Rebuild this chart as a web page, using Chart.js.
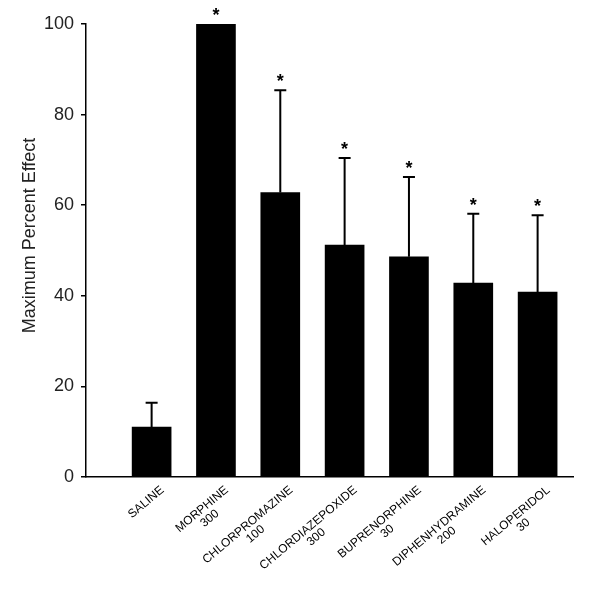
<!DOCTYPE html>
<html>
<head>
<meta charset="utf-8">
<script src="https://cdn.jsdelivr.net/npm/chart.js@4"></script>
<style>
html,body{margin:0;padding:0;background:#fff}
#wrap{width:612px;height:589px}
</style>
</head>
<body>
<div id="wrap"><canvas id="chart" width="612" height="589"></canvas></div>
<script>
// data
const drugs = ["SALINE","MORPHINE","CHLORPROMAZINE","CHLORDIAZEPOXIDE","BUPRENORPHINE","DIPHENHYDRAMINE","HALOPERIDOL"]
const doses = ["","300","100","300","30","200","30"]
const meanEffect = [11, 100, 62.8, 51.2, 48.6, 42.8, 40.8]
const errUp = [5.4, 0, 22.6, 19.2, 17.6, 15.3, 17]
const significant = [false, true, true, true, true, true, true]
const yTicks = [0, 20, 40, 60, 80, 100]

const FONT = "'Liberation Sans', Arial, sans-serif"

// error bars, stars and the angled category labels
const extras = {
  id: "extras",
  afterDatasetsDraw(chart){
    const c = chart.ctx
    const xs = chart.scales.x, ys = chart.scales.y
    c.save()
    c.strokeStyle = "#000"
    c.fillStyle = "#000"
    c.lineWidth = 2
    meanEffect.forEach((v,i)=>{
      const x = xs.getPixelForValue(i)
      const top = ys.getPixelForValue(v + errUp[i])
      if(errUp[i] > 0){
        c.beginPath()
        c.moveTo(x, ys.getPixelForValue(v))
        c.lineTo(x, top)
        c.moveTo(x-6, top)
        c.lineTo(x+6, top)
        c.stroke()
      }
      if(significant[i]){
        c.font = "bold 18px " + FONT
        c.textAlign = "center"
        c.textBaseline = "middle"
        c.fillText("*", x, top - 8)
      }
    })
    c.restore()
  },
  afterDraw(chart){
    const c = chart.ctx
    const xs = chart.scales.x
    const y0 = chart.chartArea.bottom
    c.save()
    c.fillStyle = "#000"
    c.font = "12px " + FONT
    drugs.forEach((name,i)=>{
      const x = xs.getPixelForValue(i)
      c.save()
      c.translate(x + 7, y0 + 7)
      c.rotate(-40 * Math.PI / 180)
      c.textBaseline = "top"
      c.textAlign = "right"
      c.fillText(name, 0, 0)
      if(doses[i]){
        const w = c.measureText(name).width
        c.textAlign = "center"
        c.fillText(doses[i], -w/2, 12)
      }
      c.restore()
    })
    c.restore()
  }
}

new Chart(document.getElementById("chart"), {
  type: "bar",
  data: {
    datasets: [{
      data: meanEffect.map((v,i)=>({x:i, y:v})),
      backgroundColor: "#000",
      borderWidth: 0,
      barThickness: 39
    }]
  },
  options: {
    responsive: false,
    animation: false,
    layout: { padding: { top: 24, right: 39, left: 0, bottom: 0 } },
    plugins: { legend: { display: false }, tooltip: { enabled: false } },
    scales: {
      x: {
        type: "linear",
        offset: false,
        min: -1.02,
        max: 6.55,
        grid: { display: false },
        border: { display: true, color: "#000", width: 1.5 },
        ticks: { display: false },
        afterFit(s){ s.height = 112 }
      },
      y: {
        min: 0,
        max: 100,
        afterBuildTicks(s){ s.ticks = yTicks.map(v=>({value:v})) },
        grid: { drawOnChartArea: false, tickLength: 5, color: "#000", lineWidth: 1.5 },
        border: { display: true, color: "#000", width: 1.5 },
        ticks: { color: "#222", padding: 7, font: { family: FONT, size: 18 } },
        title: {
          display: true,
          // leading spaces nudge the centred title up a little, like the original
          text: "      Maximum Percent Effect",
          color: "#222",
          font: { family: FONT, size: 18 },
          padding: { top: 19, bottom: 0 }
        },
        afterFit(s){ s.width = 86 }
      }
    }
  },
  plugins: [extras]
})
</script>
</body>
</html>
